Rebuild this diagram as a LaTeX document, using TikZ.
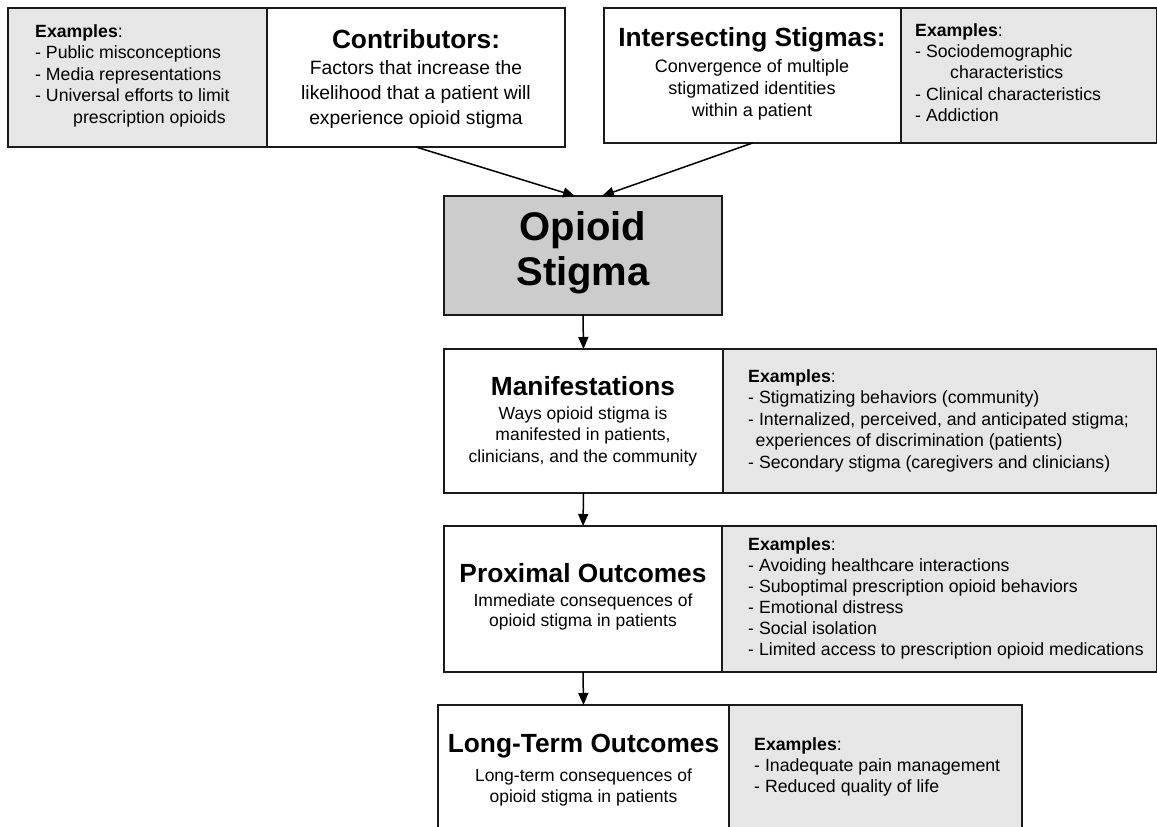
\documentclass[tikz,border=0pt]{standalone}
\usepackage{fontspec}
\setmainfont{Liberation Sans}
\usetikzlibrary{arrows.meta}
\definecolor{exgray}{HTML}{E6E6E6}
\definecolor{midgray}{HTML}{CCCCCC}
\definecolor{edgecol}{HTML}{1A1A1A}
\begin{document}
\begin{tikzpicture}[x=1pt,y=-1pt,
  box/.style={draw=edgecol, line width=1.8pt, inner sep=0pt, outer sep=0pt, anchor=north west},
  exbox/.style={box, fill=exgray},
  wbox/.style={box, fill=white},
  ttl/.style={inner sep=0pt, anchor=base, font=\fontsize{26.3}{30}\selectfont\bfseries},
  bodytxt/.style={inner sep=0pt, anchor=north, align=center, font=\fontsize{17.5}{20}\selectfont},
  extxt/.style={inner sep=0pt, anchor=north west, align=left, font=\fontsize{17.7}{21.5}\selectfont},
  arr/.style={draw=black, line width=1.5pt, -{Triangle[length=12pt,width=10pt]}}
]
\clip (0,0) rectangle (1157,827);
\fill[white] (0,0) rectangle (1157,827);

% top row
\node[exbox, minimum width=259pt, minimum height=139pt] (ex1) at (8,8) {};
\node[wbox, minimum width=298pt, minimum height=139pt] (contrib) at (267,8) {};
\node[wbox, minimum width=297pt, minimum height=135pt] (inter) at (604,8) {};
\node[exbox, minimum width=256pt, minimum height=135pt] (ex2) at (901,8) {};

\node[extxt] (ex1t) at (35,24.2) {\textbf{Examples}:\\- Public misconceptions\\- Media representations\\- Universal efforts to limit\\\hspace*{38pt}prescription opioids};
\node[ttl] (contribT) at (416,48) {Contributors:};
\node[bodytxt, font=\fontsize{19.3}{25}\selectfont] (contribB) at (416,60.5) {Factors that increase the\\likelihood that a patient will\\experience opioid stigma};
\node[ttl] (interT) at (752,46) {Intersecting Stigmas:};
\node[bodytxt, font=\fontsize{18}{22}\selectfont] (interB) at (752,59.5) {Convergence of multiple\\stigmatized identities\\within a patient};
\node[extxt, font=\fontsize{17.7}{21.3}\selectfont] (ex2t) at (915,23.2) {\textbf{Examples}:\\- Sociodemographic\\\hspace*{35pt}characteristics\\- Clinical characteristics\\- Addiction};

% opioid stigma
\node[box, fill=midgray, minimum width=278pt, minimum height=119pt] (opioid) at (444,196) {};
\node[inner sep=0pt, anchor=north, align=center, font=\fontsize{40}{45}\selectfont\bfseries] (opioidT) at (583,211.5) {Opioid\\Stigma};

% manifestations
\node[exbox, minimum width=434pt, minimum height=144pt] (ex3) at (723,349) {};
\node[wbox, minimum width=279pt, minimum height=144pt] (man) at (444,349) {};
\node[ttl] (manT) at (583,395) {Manifestations};
\node[bodytxt, font=\fontsize{17.5}{21.5}\selectfont] (manB) at (583,406.5) {Ways opioid stigma is\\manifested in patients,\\clinicians, and the community};
\node[extxt] (ex3t) at (748,369.2) {\textbf{Examples}:\\- Stigmatizing behaviors (community)\\- Internalized, perceived, and anticipated stigma;\\\hspace*{7.5pt}experiences of discrimination (patients)\\- Secondary stigma (caregivers and clinicians)};

% proximal
\node[exbox, minimum width=435pt, minimum height=146pt] (ex4) at (722,526) {};
\node[wbox, minimum width=278pt, minimum height=146pt] (prox) at (444,526) {};
\node[ttl] (proxT) at (583,582) {Proximal Outcomes};
\node[bodytxt] (proxB) at (583,593.2) {Immediate consequences of\\opioid stigma in patients};
\node[extxt, font=\fontsize{17.7}{21}\selectfont] (ex4t) at (748,537.2) {\textbf{Examples}:\\- Avoiding healthcare interactions\\- Suboptimal prescription opioid behaviors\\- Emotional distress\\- Social isolation\\- Limited access to prescription opioid medications};

% long-term
\node[exbox, minimum width=293pt, minimum height=140pt] (ex5) at (729,705) {};
\node[wbox, minimum width=291pt, minimum height=140pt] (lt) at (438,705) {};
\node[ttl] (ltT) at (583.5,752) {Long-Term Outcomes};
\node[bodytxt, font=\fontsize{17.5}{21}\selectfont] (ltB) at (583.5,769) {Long-term consequences of\\opioid stigma in patients};
\node[extxt, font=\fontsize{17.7}{21}\selectfont] (ex5t) at (754,737.2) {\textbf{Examples}:\\- Inadequate pain management\\- Reduced quality of life};

% connectors
\coordinate (tipA) at ([xshift=-8pt]opioid.north);
\coordinate (tipB) at ([xshift=19pt]opioid.north);
\draw[arr] (contrib.south) -- (tipA);
\draw[arr] (inter.south) -- (tipB);
\draw[arr] (opioid.south) -- (man.north);
\draw[arr] (man.south) -- (prox.north);
\draw[arr] (prox.south) -- (lt.north);
\end{tikzpicture}
\end{document}
